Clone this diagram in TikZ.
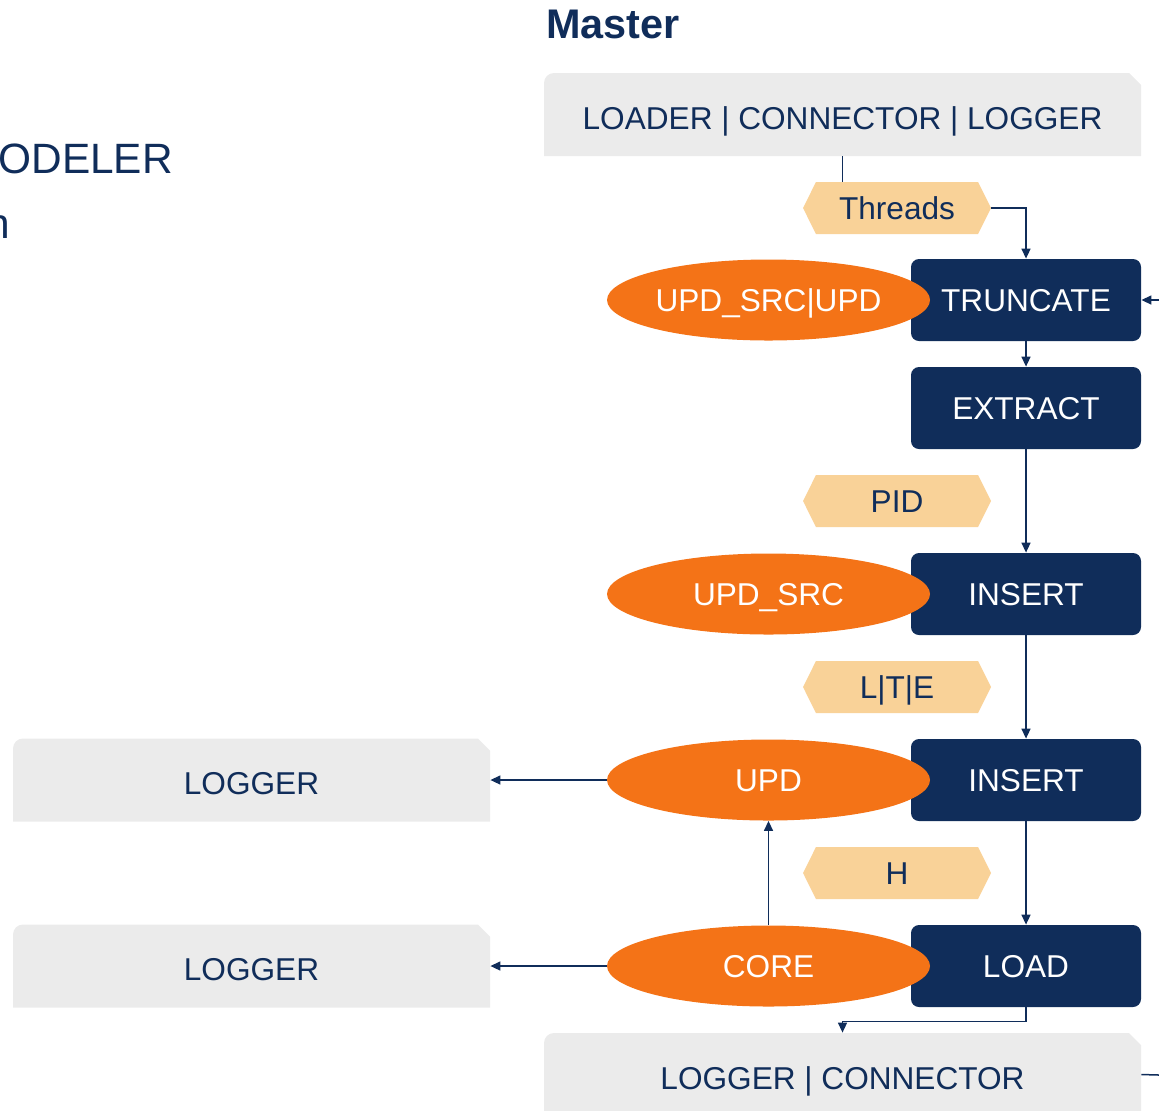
\documentclass[tikz,border=0pt]{standalone}
\usepackage{fontspec}
\setmainfont{Liberation Sans}
\usetikzlibrary{arrows.meta, shapes.geometric, shapes.symbols}

\definecolor{navy}{RGB}{16,45,90}
\definecolor{flame}{RGB}{244,115,23}
\definecolor{sand}{RGB}{249,210,152}
\definecolor{panelgrey}{RGB}{235,235,235}

\tikzset{
  base/.style={font=\fontsize{15.8}{19}\selectfont, inner sep=0pt,
    text height=11.4pt, text depth=0pt},
  stage/.style={base, rectangle, rounded corners=4pt, fill=navy, text=white,
    minimum width=115pt, minimum height=41pt},
  flag/.style={base, ellipse, fill=flame, text=white,
    minimum width=161.5pt, minimum height=40.5pt},
  tag/.style={base, signal, signal to=east and west, signal pointer angle=127,
    fill=sand, text=navy, minimum width=94pt, minimum height=26pt},
  panel/.style={base, text=navy, minimum height=41.5pt, text height=14.6pt,
    path picture={\fill[panelgrey] (path picture bounding box.south west)
      [rounded corners=5pt] -- (path picture bounding box.north west)
      [sharp corners] -- ([xshift=-6pt]path picture bounding box.north east)
      -- ([yshift=-6pt]path picture bounding box.north east)
      -- (path picture bounding box.south east) -- cycle;}},
  link/.style={navy, line width=0.75pt},
  arrow/.style={link, -{Triangle[length=5pt, width=4.5pt]}},
  heading/.style={font=\fontsize{21.2}{24}\selectfont, text=navy, inner sep=0pt}
}

\begin{document}
\begin{tikzpicture}[x=0.5pt, y=-0.5pt]
\useasboundingbox (0,0) rectangle (1159,1110);
\clip (0,0) rectangle (1159,1110);
% headings
\node[heading, font=\fontsize{20.7}{24}\selectfont\bfseries, anchor=base west] (title) at (546,38) {Master};
\node[heading, anchor=base west] (side) at (-2,173) {ODELER};
\node[heading, anchor=base east] (sidenote) at (10,238) {n};
% grey panels
\node[panel, minimum width=298.5pt] (loader) at (842.5,114.5) {LOADER | CONNECTOR | LOGGER};
\node[panel, minimum width=238.5pt] (log1) at (251.5,780) {LOGGER};
\node[panel, minimum width=238.5pt] (log2) at (251.5,966) {LOGGER};
\node[panel, minimum width=298.5pt] (sink) at (842.5,1074.5) {LOGGER | CONNECTOR};
% pipeline stages
\node[stage] (trunc) at (1026,300) {TRUNCATE};
\node[stage] (extract) at (1026,408) {EXTRACT};
\node[stage] (ins1) at (1026,594) {INSERT};
\node[stage] (ins2) at (1026,780) {INSERT};
\node[stage] (load) at (1026,966) {LOAD};
% flags on the stages
\node[flag] (updsrc2) at (768.5,300) {UPD\_SRC|UPD};
\node[flag] (updsrc) at (768.5,594) {UPD\_SRC};
\node[flag] (upd) at (768.5,780) {UPD};
\node[flag] (core) at (768.5,966) {CORE};
% tags between the stages
\node[tag] (threads) at (897,208) {Threads};
\node[tag] (pid) at (897,501) {PID};
\node[tag] (lte) at (897,687) {L|T|E};
\node[tag] (h) at (897,873) {H};
% loose ends on the right
\coordinate (inright) at (1159,300);
\coordinate (outright) at (1159,1075);
% connectors
\draw[link] (loader.south) -- (loader.south |- threads.north);
\draw[arrow] (threads.east) -| (trunc.north);
\draw[arrow] (inright) -- (trunc.east);
\draw[arrow] (trunc) -- (extract);
\draw[arrow] (extract) -- (ins1);
\draw[arrow] (ins1) -- (ins2);
\draw[arrow] (ins2) -- (load);
\draw[arrow] (upd.west) -- (log1.east);
\draw[arrow] (core.west) -- (log2.east);
\draw[arrow] (core.north) -- (upd.south);
\draw[arrow] (load.south) -- ++(0,14) -| (sink.north);
\draw[link] (sink.east) -- (outright);
\end{tikzpicture}
\end{document}
